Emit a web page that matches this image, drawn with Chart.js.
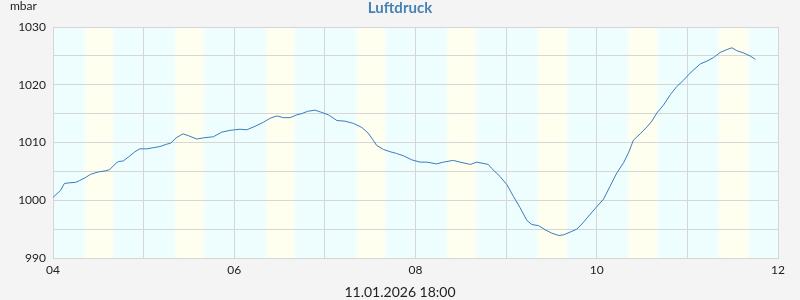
<!DOCTYPE html>
<html>
<head>
<meta charset="utf-8">
<script src="https://cdn.jsdelivr.net/npm/chart.js@4.4.0/dist/chart.umd.min.js"></script>
<style>
  html, body { margin: 0; padding: 0; background: #f4f4f4; }
  #wrap { width: 800px; height: 300px; }
</style>
</head>
<body>
<div id="wrap"><canvas id="chart" width="800" height="300"></canvas></div>
<script>
// hours since 04.01.2026 00:00
const hours = [
  0, 2, 3, 4, 6, 7, 8.5, 10, 12, 14,
  15, 16.5, 17.3, 18.6, 20, 21.7, 23, 24.8, 26.6, 28.3,
  30.1, 31.2, 32.6, 34.4, 35.8, 38.1, 39.8, 42.5, 44.7, 46.9,
  49.5, 51.3, 53.5, 55.7, 57.5, 59.3, 61, 62.8, 64.6, 65.9,
  67.4, 69.4, 71.2, 72.9, 75.2, 77.3, 79.6, 81.8, 83.5, 84.8,
  85.7, 87.5, 89.3, 91, 92.8, 95, 97.2, 99, 101.6, 103.4,
  106, 107.8, 110.5, 112.2, 115.3, 116.2, 118.4, 120.2, 121.9, 123.7,
  125.5, 126.8, 128.6, 130.3, 132.1, 133.9, 135.2, 137, 138.7, 140.1,
  142.3, 143.9, 145.8, 147.5, 149.3, 151.1, 152.4, 153.7, 155.5, 157.3,
  158.6, 159.9, 161.7, 163.5, 165.2, 167, 168.7, 171.4, 173.2, 174.9,
  176.7, 178.5, 179.8, 181.1, 182.9, 184.6, 186
];
const pressure = [
  1000.5, 1001.7, 1002.9, 1003.0, 1003.1, 1003.4, 1003.9, 1004.5, 1004.9, 1005.1,
  1005.3, 1006.3, 1006.7, 1006.8, 1007.5, 1008.4, 1008.9, 1008.9, 1009.1, 1009.3,
  1009.7, 1009.9, 1010.8, 1011.5, 1011.2, 1010.6, 1010.8, 1011.0, 1011.8, 1012.1,
  1012.3, 1012.2, 1012.8, 1013.5, 1014.2, 1014.6, 1014.3, 1014.3, 1014.8, 1015.0,
  1015.4, 1015.6, 1015.2, 1014.8, 1013.8, 1013.7, 1013.3, 1012.6, 1011.6, 1010.4,
  1009.5, 1008.8, 1008.4, 1008.1, 1007.7, 1007.0, 1006.6, 1006.6, 1006.3, 1006.6,
  1006.9, 1006.6, 1006.2, 1006.6, 1006.2, 1005.5, 1004.1, 1002.7, 1000.7, 998.7,
  996.5, 995.8, 995.6, 994.9, 994.3, 993.9, 994.0, 994.5, 995.0, 995.9,
  997.6, 998.8, 1000.2, 1002.4, 1004.7, 1006.5, 1008.2, 1010.4, 1011.5, 1012.7,
  1013.7, 1015.1, 1016.5, 1018.3, 1019.7, 1020.8, 1022.0, 1023.6, 1024.1, 1024.7,
  1025.6, 1026.1, 1026.4, 1025.9, 1025.5, 1025.0, 1024.4
];
const dayLabels = ['04', '05', '06', '07', '08', '09', '10', '11', '12'];
// daylight per day, hour of day
const sunrise = [8.4, 8.4, 8.4, 8.4, 8.4, 8.35, 8.35, 8.3];
const sunset = [15.9, 15.95, 16.0, 16.05, 16.1, 16.15, 16.2, 16.25];

const title = 'Luftdruck';
const unit = 'mbar';
const stamp = '11.01.2026 18:00';

const NIGHT = '#eefeff';
const DAY = '#fffff0';
const FONT = 'Lato, "DejaVu Sans", sans-serif';

const backdrop = {
  id: 'backdrop',
  beforeDraw(chart) {
    const { ctx, chartArea: a, scales: { x } } = chart;
    ctx.save();
    ctx.fillStyle = '#f4f4f4';
    ctx.fillRect(0, 0, chart.width, chart.height);
    ctx.fillStyle = NIGHT;
    ctx.fillRect(a.left, a.top, a.right - a.left, a.bottom - a.top);
    sunrise.forEach((rise, i) => {
      const fade = 0.6;
      const x0 = x.getPixelForValue(i * 24 + rise - fade);
      const x1 = x.getPixelForValue(i * 24 + sunset[i] + fade);
      const w = x1 - x0;
      const g = ctx.createLinearGradient(x0, 0, x1, 0);
      const f = (x.getPixelForValue(fade * 2) - x.getPixelForValue(0)) / w;
      g.addColorStop(0, NIGHT);
      g.addColorStop(f, DAY);
      g.addColorStop(1 - f, DAY);
      g.addColorStop(1, NIGHT);
      ctx.fillStyle = g;
      ctx.fillRect(x0, a.top, w, a.bottom - a.top);
    });
    ctx.restore();
  },
  afterDraw(chart) {
    const { ctx } = chart;
    ctx.save();
    ctx.textBaseline = 'alphabetic';
    ctx.textAlign = 'center';
    ctx.fillStyle = '#4682b4';
    ctx.font = 'bold 15px ' + FONT;
    ctx.fillText(title, 400, 13);
    ctx.fillStyle = '#222';
    ctx.font = '14px ' + FONT;
    ctx.fillText(stamp, 400, 296.5);
    ctx.textAlign = 'left';
    ctx.font = '12px ' + FONT;
    ctx.fillText(unit, 10, 10);
    ctx.restore();
  }
};

new Chart(document.getElementById('chart'), {
  type: 'line',
  data: {
    datasets: [{
      data: hours.map((h, i) => ({ x: h, y: pressure[i] })),
      borderColor: '#3a7cbf',
      borderWidth: 1,
      pointRadius: 0,
      tension: 0,
      fill: false
    }]
  },
  options: {
    responsive: false,
    animation: false,
    devicePixelRatio: 1,
    layout: { padding: { left: 0, right: 22, top: 27, bottom: 0 } },
    plugins: {
      legend: { display: false },
      title: { display: false },
      tooltip: { enabled: false }
    },
    scales: {
      x: {
        type: 'linear',
        min: 0,
        max: 192,
        afterFit: (s) => { s.height = 42; },
        border: { color: '#d6d6d6' },
        grid: { color: '#d6d6d6', drawTicks: false },
        ticks: {
          stepSize: 24,
          autoSkip: false,
          maxRotation: 0,
          padding: 5,
          color: '#222',
          font: { family: FONT, size: 12 },
          callback: (v) => {
            const d = Math.round(v / 24);
            return d % 2 === 0 ? dayLabels[d] : '';
          }
        }
      },
      y: {
        min: 990,
        max: 1030,
        afterFit: (s) => { s.width = 53; },
        border: { color: '#d6d6d6' },
        grid: { color: '#d6d6d6', drawTicks: false },
        ticks: {
          stepSize: 5,
          autoSkip: false,
          padding: 7,
          color: '#222',
          font: { family: FONT, size: 12 },
          callback: (v) => (v % 10 === 0 ? String(v) : '')
        }
      }
    }
  },
  plugins: [backdrop]
});
</script>
</body>
</html>
